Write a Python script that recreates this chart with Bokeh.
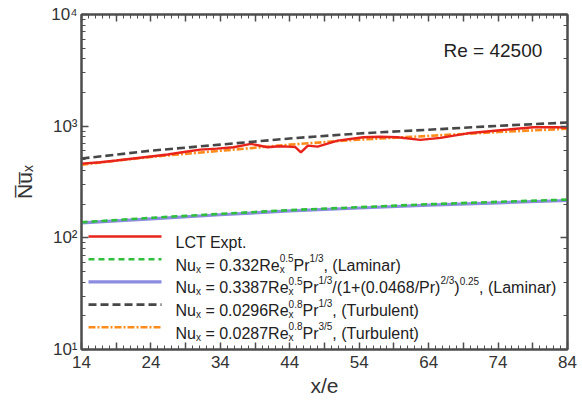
import math
from bokeh.plotting import figure
from bokeh.models import (Label, FixedTicker, LinearAxis, LogAxis, LogTicker,
                          CustomJSTickFormatter, Range1d)
from bokeh.embed import file_html
from bokeh.resources import INLINE

# ---------------- data ----------------
x_corr = [14, 24, 34, 44, 54, 64, 74, 84]
nu_turb_pr13 = [513, 603, 684, 776, 861, 929, 1007, 1077]
nu_turb_pr35 = [452, 531, 602, 683, 758, 818, 886, 948]
nu_lam_332 = [138, 151, 164, 177, 188, 200, 210, 220]
nu_lam_3387 = [136, 148, 161, 174, 185, 196, 206, 216]

x_expt = [14, 16.7, 19.0, 21.5, 24.0, 26.4, 29.0, 31.1, 33.5, 35.9, 38.4, 40.8,
          42.5, 43.7, 44.8, 45.6, 46.6, 48.0, 50.9, 54.6, 57.0, 59.5, 62.8,
          65.7, 69.6, 73.9, 79.1, 82.6, 84]
nu_expt = [462, 475, 492, 513, 535, 557, 590, 617, 630, 647, 695, 647,
           660, 656, 650, 583, 670, 656, 743, 796, 805, 796, 754,
           785, 863, 914, 977, 977, 966]

x_major = [14, 19, 24, 29, 34, 39, 44, 49, 54, 59, 64, 69, 74, 79, 84]
x_minor = list(range(14, 85))
y_lo, y_hi = 10, 10000
re_text = "Re = 42500"
y_label = "N\u0305u\u0305\u2093"
x_label = "x/e"

# ---------------- layout (page px; the canvas sits at the page origin) ----------------
CW, CH = 580, 404
FR_L, FR_R, FR_T, FR_B = 81, 567, 14, 349
def dx(px):
    return 14 + (px - FR_L) * 70.0 / (FR_R - FR_L)
def dy(py):
    return 10 ** (4 - 3.0 * (py - FR_T) / (FR_B - FR_T))

FONT = "Liberation Sans"
TXT = "#222222"
AX = "#4d4d4d"

p = figure(width=CW, height=CH, y_axis_type="log",
           x_range=Range1d(14, 84), y_range=Range1d(y_lo, y_hi),
           output_backend="svg", toolbar_location=None,
           min_border_left=FR_L, min_border_right=CW - FR_R, min_border_top=FR_T,
           min_border_bottom=CH - FR_B)
p.background_fill_color = "white"
p.border_fill_color = "white"
p.outline_line_color = AX
p.outline_line_width = 2
p.xgrid.visible = False
p.ygrid.visible = False

xt = FixedTicker(ticks=x_major, minor_ticks=x_minor)
p.xaxis.ticker = xt
p.xaxis.formatter = CustomJSTickFormatter(
    code="return ((Math.round(tick) - 14) % 10 === 0) ? Math.round(tick).toString() : '';")
p.yaxis.formatter = CustomJSTickFormatter(code="""
const s = {'0':'\u2070','1':'\u00b9','2':'\u00b2','3':'\u00b3','4':'\u2074',
           '5':'\u2075','6':'\u2076','7':'\u2077','8':'\u2078','9':'\u2079','-':'\u207b'};
const e = Math.round(Math.log10(tick));
return '10' + String(e).split('').map(c => s[c]).join('');
""")

def style_axis(ax):
    ax.axis_line_color = AX
    ax.axis_line_width = 2
    ax.major_tick_line_color = AX
    ax.minor_tick_line_color = AX
    ax.major_tick_line_width = 1.5
    ax.minor_tick_line_width = 1
    ax.major_tick_in = 7
    ax.major_tick_out = 0
    ax.minor_tick_in = 4
    ax.minor_tick_out = 0
    ax.major_label_text_font = FONT
    ax.major_label_text_color = "#333333"

for ax in (p.xaxis[0], p.yaxis[0]):
    style_axis(ax)
p.xaxis.major_label_text_font_size = "17px"
p.xaxis.major_label_standoff = 6
p.xaxis.axis_label = x_label
p.xaxis.axis_label_text_font = FONT
p.xaxis.axis_label_text_font_size = "21px"
p.xaxis.axis_label_text_font_style = "normal"
p.xaxis.axis_label_text_color = "#333333"
p.xaxis.axis_label_standoff = 3
p.yaxis.major_label_text_font_size = "17px"
p.yaxis.major_label_standoff = 4
p.yaxis.axis_label = y_label
p.yaxis.axis_label_text_font = FONT
p.yaxis.axis_label_text_font_size = "21px"
p.yaxis.axis_label_text_font_style = "normal"
p.yaxis.axis_label_text_color = "#333333"
p.yaxis.axis_label_standoff = 12

top = LinearAxis(ticker=xt, formatter=CustomJSTickFormatter(code="return '';"))
right = LogAxis(ticker=LogTicker(), formatter=CustomJSTickFormatter(code="return '';"))
for ax in (top, right):
    style_axis(ax)
    ax.major_label_text_font_size = "0px"
    ax.major_label_standoff = 0
p.add_layout(top, "above")
p.add_layout(right, "right")

# ---------------- styles ----------------
RED = "#e8231b"
GREEN = "#2fbf3a"
BLUE = "#8c8ce0"
GRAY = "#474747"
ORANGE = "#ff8c1a"

S_BLUE = dict(line_color=BLUE, line_width=3.2)
S_GREEN = dict(line_color=GREEN, line_width=2.6, line_dash="6 4")
S_ORANGE = dict(line_color=ORANGE, line_width=2.6, line_dash="7 2 2 2")
S_GRAY = dict(line_color=GRAY, line_width=2.6, line_dash="8 4")
S_RED = dict(line_color=RED, line_width=2.4)

p.line(x_corr, nu_lam_3387, **S_BLUE)
p.line(x_corr, nu_lam_332, **S_GREEN)
p.line(x_corr, nu_turb_pr35, **S_ORANGE)
p.line(x_expt, nu_expt, **S_RED)
p.line(x_corr, nu_turb_pr13, **S_GRAY)

# ---------------- rich-text helper ----------------
W = {' ': 278, '!': 278, '(': 333, ')': 333, '+': 584, ',': 278, '-': 333, '.': 278,
     '/': 278, '=': 584, 'A': 667, 'B': 667, 'C': 722, 'D': 722, 'E': 667, 'F': 611,
     'G': 778, 'H': 722, 'I': 278, 'J': 500, 'K': 667, 'L': 556, 'M': 833, 'N': 722,
     'O': 778, 'P': 667, 'Q': 778, 'R': 722, 'S': 667, 'T': 611, 'U': 722, 'V': 667,
     'W': 944, 'X': 667, 'Y': 667, 'Z': 611, 'a': 556, 'b': 556, 'c': 500, 'd': 556,
     'e': 556, 'f': 278, 'g': 556, 'h': 556, 'i': 222, 'j': 222, 'k': 500, 'l': 222,
     'm': 833, 'n': 556, 'o': 556, 'p': 556, 'q': 556, 'r': 333, 's': 500, 't': 278,
     'u': 556, 'v': 500, 'w': 722, 'x': 500, 'y': 500, 'z': 500}
for d in "0123456789":
    W[d] = 556

def tw(s, size):
    return sum(W.get(c, 556) for c in s) * size / 1000.0

def put(x, y, text, size, xo=0, yo=0, color=TXT):
    # SVG collapses leading/trailing blanks: move them into the offset
    lead = len(text) - len(text.lstrip(" "))
    xo += tw(text[:lead], size)
    text = text.strip(" ")
    p.add_layout(Label(x=x, y=y, x_offset=xo, y_offset=yo, text=text,
                       text_font=FONT, text_font_size=f"{size}px", text_color=color,
                       text_align="left", text_baseline="alphabetic"))

BASE, SMALL = 16, 10
def rich(parts, x0, y0):
    off = 0.0
    b = -6
    for part in parts:
        kind = part[0]
        if kind == "n":
            put(x0, y0, part[1], BASE, off, b)
            off += tw(part[1], BASE)
        elif kind == "sub":
            put(x0, y0, part[1], SMALL, off, b - 4)
            off += tw(part[1], SMALL)
        elif kind == "sup":
            put(x0, y0, part[1], SMALL, off, b + 7)
            off += tw(part[1], SMALL)
        elif kind == "subsup":
            put(x0, y0, part[1], SMALL, off, b - 4)
            put(x0, y0, part[2], SMALL, off, b + 7)
            off += max(tw(part[1], SMALL), tw(part[2], SMALL))

legend_rows = [
    ([("n", "LCT Expt.")], S_RED),
    ([("n", "Nu"), ("sub", "x"), ("n", " = 0.332Re"), ("subsup", "x", "0.5"), ("n", "Pr"),
      ("sup", "1/3"), ("n", ", (Laminar)")], S_GREEN),
    ([("n", "Nu"), ("sub", "x"), ("n", " = 0.3387Re"), ("subsup", "x", "0.5"), ("n", "Pr"),
      ("sup", "1/3"), ("n", "/(1+(0.0468/Pr)"), ("sup", "2/3"), ("n", ")"), ("sup", "0.25"),
      ("n", ", (Laminar)")], S_BLUE),
    ([("n", "Nu"), ("sub", "x"), ("n", " = 0.0296Re"), ("subsup", "x", "0.8"), ("n", "Pr"),
      ("sup", "1/3"), ("n", ", (Turbulent)")], S_GRAY),
    ([("n", "Nu"), ("sub", "x"), ("n", " = 0.0287Re"), ("subsup", "x", "0.8"), ("n", "Pr"),
      ("sup", "3/5"), ("n", ", (Turbulent)")], S_ORANGE),
]
LEG_TOP, LEG_STEP = 236, 22.7
LEG_X0, LEG_X1, LEG_TX = 88, 161, 175
for i, (parts, style) in enumerate(legend_rows):
    ypx = LEG_TOP + i * LEG_STEP
    p.line([dx(LEG_X0), dx(LEG_X1)], [dy(ypx), dy(ypx)], **style)
    rich(parts, dx(LEG_TX), dy(ypx))

# Re annotation
put(dx(443), dy(50), re_text, 19)

open("out.html", "w").write(file_html(p, INLINE))
